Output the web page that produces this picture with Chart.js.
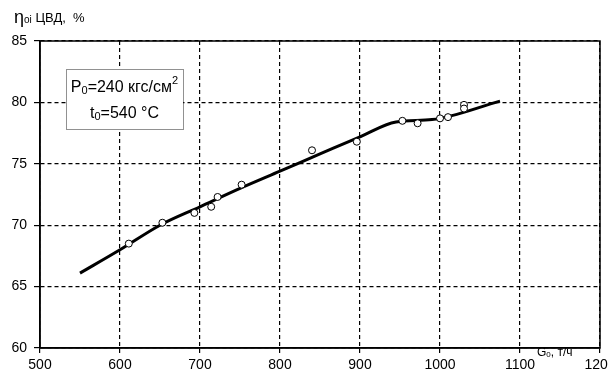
<!DOCTYPE html>
<html>
<head>
<meta charset="utf-8">
<script src="https://cdn.jsdelivr.net/npm/chart.js@4"></script>
<style>
    html, body { margin: 0; padding: 0; background: #fff; }
    #efficiencyChart { display: block; }
</style>
</head>
<body>
<canvas id="efficiencyChart" width="608" height="378"></canvas>
<script>
// Fitted curve (G0, т/ч -> ηoi ЦВД, %)
const curveFlow = [550, 600, 650, 700, 750, 800, 850, 900, 945, 990, 1075];
const curveEff = [66.1, 68.0, 70.0, 71.5, 73.0, 74.4, 75.8, 77.2, 78.4, 78.6, 80.1];

// Measured points
const testFlow = [611, 653, 693, 714, 722, 752, 840, 896, 953, 972, 1000, 1010, 1030, 1030];
const testEff = [68.5, 70.2, 71.0, 71.5, 72.3, 73.3, 76.1, 76.8, 78.5, 78.3, 78.7, 78.8, 79.8, 79.5];

// Axis ticks
const xTicks = [500, 600, 700, 800, 900, 1000, 1100, 1200];
const yTicks = [60, 65, 70, 75, 80, 85];

const FONT = '"Liberation Sans", Arial, sans-serif';

document.addEventListener('DOMContentLoaded', function() {
    initializeChart();
});

function toPoints(xs, ys) {
    return xs.map((x, i) => ({ x: x, y: ys[i] }));
}

// Draws a row of text pieces with different sizes / baseline shifts
function measureRuns(ctx, runs) {
    let w = 0;
    runs.forEach(r => {
        ctx.font = r.size + 'px ' + FONT;
        w += ctx.measureText(r.text).width;
    });
    return w;
}

function drawRuns(ctx, x, y, runs) {
    ctx.textBaseline = 'middle';
    ctx.textAlign = 'left';
    runs.forEach(r => {
        ctx.font = r.size + 'px ' + FONT;
        ctx.fillText(r.text, x, y + (r.dy || 0));
        x += ctx.measureText(r.text).width;
    });
}

const decorPlugin = {
    id: 'decor',
    afterDatasetsDraw(chart) {
        const ctx = chart.ctx;
        const area = chart.chartArea;
        ctx.save();

        // solid frame round the plot
        ctx.strokeStyle = '#000';
        ctx.lineWidth = 1.5;
        ctx.setLineDash([]);
        ctx.strokeRect(area.left, area.top, area.right - area.left, area.bottom - area.top);

        // parameter box
        const bx = 66, by = 69, bw = 117, bh = 60;
        ctx.fillStyle = '#fff';
        ctx.fillRect(bx, by, bw, bh);
        ctx.strokeStyle = '#222';
        ctx.lineWidth = 1;
        ctx.setLineDash([1, 1]);
        ctx.strokeRect(bx + 0.5, by + 0.5, bw, bh);
        ctx.setLineDash([]);

        ctx.fillStyle = '#000';
        const line1 = [
            { text: 'P', size: 16 },
            { text: '0', size: 11, dy: 3 },
            { text: '=240 кгс/см', size: 16 },
            { text: '2', size: 11, dy: -7 }
        ];
        const line2 = [
            { text: 't', size: 16 },
            { text: '0', size: 11, dy: 3 },
            { text: '=540 °C', size: 16 }
        ];
        const cx = bx + bw / 2;
        drawRuns(ctx, cx - measureRuns(ctx, line1) / 2, by + 19, line1);
        drawRuns(ctx, cx - measureRuns(ctx, line2) / 2, by + 45, line2);

        // axis titles
        drawRuns(ctx, 14, 18, [
            { text: 'η', size: 18 },
            { text: 'oi', size: 10, dy: 2 },
            { text: ' ЦВД,  %', size: 13 }
        ]);
        drawRuns(ctx, 537, 353, [
            { text: 'G', size: 12 },
            { text: '0', size: 8, dy: 2 },
            { text: ', т/ч', size: 12 }
        ]);

        ctx.restore();
    }
};

function initializeChart() {
    const ctx = document.getElementById('efficiencyChart');

    const config = {
        type: 'scatter',
        data: {
            datasets: [{
                label: 'Опыт',
                data: toPoints(testFlow, testEff),
                pointRadius: 3.5,
                pointBackgroundColor: '#fff',
                pointBorderColor: '#000',
                pointBorderWidth: 1,
                showLine: false
            }, {
                label: 'Аппроксимация',
                data: toPoints(curveFlow, curveEff),
                showLine: true,
                borderColor: '#000',
                borderWidth: 3,
                pointRadius: 0,
                cubicInterpolationMode: 'monotone'
            }]
        },
        options: {
            responsive: false,
            animation: false,
            layout: { padding: { top: 41, right: 8, left: 0, bottom: 0 } },
            plugins: {
                legend: { display: false },
                tooltip: { enabled: false }
            },
            scales: {
                x: {
                    type: 'linear',
                    min: xTicks[0],
                    max: xTicks[xTicks.length - 1],
                    afterBuildTicks(scale) {
                        scale.ticks = xTicks.map(v => ({ value: v }));
                    },
                    ticks: {
                        color: '#000',
                        padding: 4,
                        maxRotation: 0,
                        autoSkip: false,
                        font: { family: FONT, size: 14 },
                        callback: v => String(v)
                    },
                    grid: {
                        color: '#000',
                        lineWidth: 1.2,
                        tickLength: 5,
                        tickColor: '#000',
                        tickBorderDash: []
                    },
                    border: { display: true, color: '#000', width: 1.5, dash: [4, 3] },
                    afterFit(scale) {
                        scale.height = 30;
                        scale.paddingLeft = 0;
                        scale.paddingRight = 0;
                    }
                },
                y: {
                    min: yTicks[0],
                    max: yTicks[yTicks.length - 1],
                    afterBuildTicks(scale) {
                        scale.ticks = yTicks.map(v => ({ value: v }));
                    },
                    ticks: {
                        color: '#000',
                        padding: 7,
                        font: { family: FONT, size: 14 },
                        callback: v => String(v)
                    },
                    grid: {
                        color: '#000',
                        lineWidth: 1.2,
                        tickLength: 6,
                        tickColor: '#000',
                        tickBorderDash: []
                    },
                    border: { display: true, color: '#000', width: 1.5, dash: [4, 3] },
                    afterFit(scale) {
                        scale.width = 40;
                        scale.paddingTop = 0;
                        scale.paddingBottom = 0;
                    }
                }
            }
        },
        plugins: [decorPlugin]
    };

    new Chart(ctx, config);
}
</script>
</body>
</html>
